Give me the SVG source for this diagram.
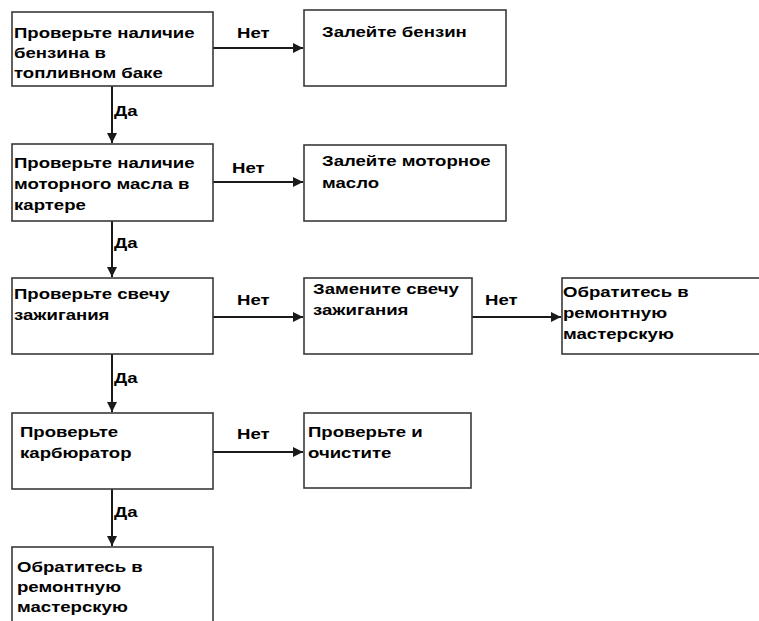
<svg xmlns="http://www.w3.org/2000/svg" width="759" height="621" viewBox="0 0 759 621">
<style>
.box{fill:#fff;stroke:#3a3a3a;stroke-width:1.6}
.t{font-family:"Liberation Sans",Arial,sans-serif;font-weight:bold;font-size:15px;fill:#000}
.c{stroke:#1a1a1a;stroke-width:2;fill:none}
</style>
<defs>
<marker id="ah" viewBox="0 0 10 10" refX="10" refY="5" markerWidth="5.5" markerHeight="5" markerUnits="strokeWidth" orient="auto">
<path d="M0,0 L10,5 L0,10 z" fill="#1a1a1a"/>
</marker>
</defs>
<rect width="759" height="621" fill="#fff"/>
<g id="connectors">
<line class="c" x1="213" y1="48" x2="303" y2="48" marker-end="url(#ah)"/>
<line class="c" x1="213" y1="182" x2="303" y2="182" marker-end="url(#ah)"/>
<line class="c" x1="213" y1="317" x2="303" y2="317" marker-end="url(#ah)"/>
<line class="c" x1="472" y1="317" x2="561" y2="317" marker-end="url(#ah)"/>
<line class="c" x1="213" y1="452" x2="303" y2="452" marker-end="url(#ah)"/>
<line class="c" x1="112" y1="86" x2="112" y2="143" marker-end="url(#ah)"/>
<line class="c" x1="112" y1="221" x2="112" y2="277" marker-end="url(#ah)"/>
<line class="c" x1="112" y1="354" x2="112" y2="412" marker-end="url(#ah)"/>
<line class="c" x1="112" y1="489" x2="112" y2="546" marker-end="url(#ah)"/>
<text class="t" transform="translate(237 38) scale(1.24 1)">Нет</text>
<text class="t" transform="translate(232 173) scale(1.24 1)">Нет</text>
<text class="t" transform="translate(237 305) scale(1.24 1)">Нет</text>
<text class="t" transform="translate(485 305) scale(1.24 1)">Нет</text>
<text class="t" transform="translate(237 439) scale(1.24 1)">Нет</text>
<text class="t" transform="translate(114 116) scale(1.24 1)">Да</text>
<text class="t" transform="translate(114 248) scale(1.24 1)">Да</text>
<text class="t" transform="translate(114 383) scale(1.24 1)">Да</text>
<text class="t" transform="translate(114 517) scale(1.24 1)">Да</text>
</g>
<g id="n1"><rect class="box" x="12" y="12" width="201" height="74"/>
<text class="t" transform="translate(14 38) scale(1.24 1)">Проверьте наличие</text><text class="t" transform="translate(14 58) scale(1.24 1)">бензина в</text><text class="t" transform="translate(14 78) scale(1.24 1)">топливном баке</text></g>
<g id="n2"><rect class="box" x="304" y="10" width="202" height="76"/>
<text class="t" transform="translate(322 37) scale(1.24 1)">Залейте бензин</text></g>
<g id="n3"><rect class="box" x="12" y="144" width="201" height="77"/>
<text class="t" transform="translate(14 168) scale(1.24 1)">Проверьте наличие</text><text class="t" transform="translate(14 189) scale(1.24 1)">моторного масла в</text><text class="t" transform="translate(14 210) scale(1.24 1)">картере</text></g>
<g id="n4"><rect class="box" x="304" y="145" width="202" height="76"/>
<text class="t" transform="translate(322 166) scale(1.24 1)">Залейте моторное</text><text class="t" transform="translate(322 188) scale(1.24 1)">масло</text></g>
<g id="n5"><rect class="box" x="12" y="278" width="201" height="76"/>
<text class="t" transform="translate(14 299) scale(1.24 1)">Проверьте свечу</text><text class="t" transform="translate(14 320) scale(1.24 1)">зажигания</text></g>
<g id="n6"><rect class="box" x="304" y="278" width="168" height="76"/>
<text class="t" transform="translate(313 294) scale(1.24 1)">Замените свечу</text><text class="t" transform="translate(313 315) scale(1.24 1)">зажигания</text></g>
<g id="n7"><rect class="box" x="562" y="278" width="210" height="76"/>
<text class="t" transform="translate(563 297) scale(1.24 1)">Обратитесь в</text><text class="t" transform="translate(563 318) scale(1.24 1)">ремонтную</text><text class="t" transform="translate(563 339) scale(1.24 1)">мастерскую</text></g>
<g id="n8"><rect class="box" x="12" y="413" width="201" height="76"/>
<text class="t" transform="translate(20 437) scale(1.24 1)">Проверьте</text><text class="t" transform="translate(20 458) scale(1.24 1)">карбюратор</text></g>
<g id="n9"><rect class="box" x="304" y="413" width="167" height="75"/>
<text class="t" transform="translate(308 437) scale(1.24 1)">Проверьте и</text><text class="t" transform="translate(308 458) scale(1.24 1)">очистите</text></g>
<g id="n10"><rect class="box" x="12" y="547" width="201" height="90"/>
<text class="t" transform="translate(17 572) scale(1.24 1)">Обратитесь в</text><text class="t" transform="translate(17 592) scale(1.24 1)">ремонтную</text><text class="t" transform="translate(17 612) scale(1.24 1)">мастерскую</text></g>
</svg>
